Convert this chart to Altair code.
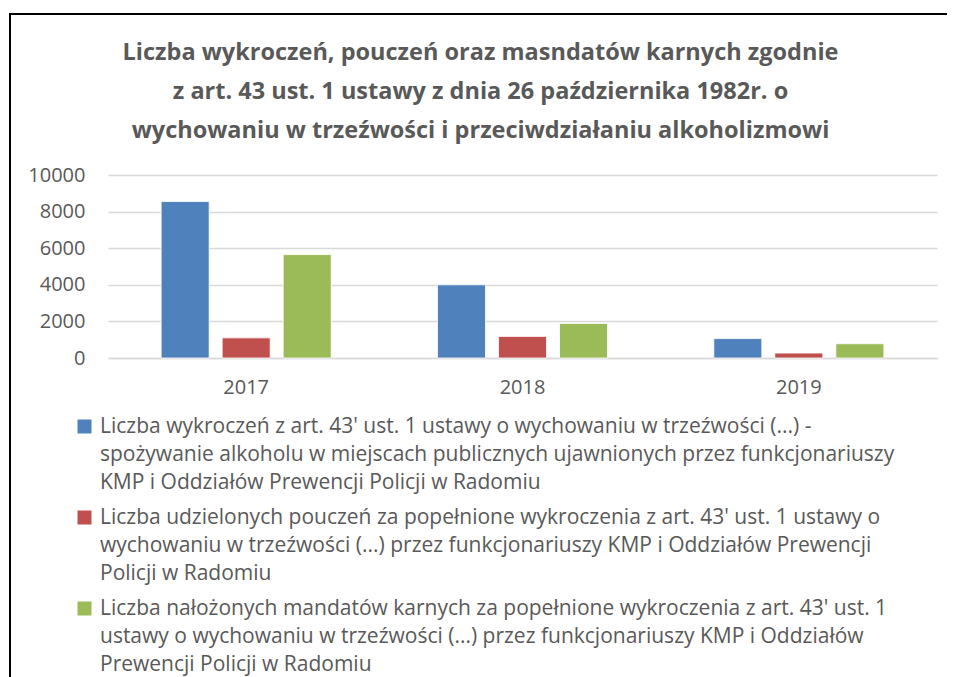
import altair as alt
import pandas as pd

YEARS = ["2017", "2018", "2019"]
SERIES = [
    "Liczba wykroczeń z art. 43' ust. 1 ustawy o wychowaniu w trzeźwości (...) -\nspożywanie alkoholu w miejscach publicznych ujawnionych przez funkcjonariuszy\nKMP i  Oddziałów Prewencji Policji w Radomiu",
    "Liczba udzielonych pouczeń za popełnione wykroczenia z art. 43' ust. 1 ustawy o\nwychowaniu w trzeźwości (...) przez funkcjonariuszy KMP i Oddziałów Prewencji\nPolicji w Radomiu",
    "Liczba nałożonych mandatów karnych za popełnione wykroczenia z art. 43' ust. 1\nustawy o wychowaniu w trzeźwości (...) przez funkcjonariuszy KMP i Oddziałów\nPrewencji Policji w Radomiu",
]
WYKROCZENIA = [8550, 4000, 1060]
POUCZENIA = [1100, 1180, 270]
MANDATY = [5650, 1890, 780]
COLORS = ["#4f81bd", "#c0504d", "#9bbb59"]
TITLE = [
    "Liczba wykroczeń, pouczeń oraz masndatów karnych zgodnie",
    "z art. 43 ust. 1 ustawy  z dnia 26 października 1982r. o",
    "wychowaniu w trzeźwości i przeciwdziałaniu alkoholizmowi",
]

rows = []
for s, vals in zip(SERIES, [WYKROCZENIA, POUCZENIA, MANDATY]):
    for y, v in zip(YEARS, vals):
        rows.append({"rok": y, "seria": s, "wartosc": v})
df = pd.DataFrame(rows)

FONT = "Open Sans"
GRAY = "#595959"

bars = alt.Chart(df).mark_bar(stroke="white", strokeWidth=0.8).encode(
    x=alt.X("rok:N", sort=YEARS, title=None,
            scale=alt.Scale(paddingInner=0.3846, paddingOuter=0.1923),
            axis=alt.Axis(labelAngle=0, labelFontSize=20, labelColor=GRAY, labelFont=FONT,
                          ticks=False, domainColor="#d9d9d9", domainWidth=1.5,
                          labelPadding=19, grid=False)),
    xOffset=alt.XOffset("seria:N", sort=SERIES,
                        scale=alt.Scale(paddingInner=0.213, paddingOuter=0)),
    y=alt.Y("wartosc:Q", title=None,
            scale=alt.Scale(domain=[0, 10000]),
            axis=alt.Axis(values=[0, 2000, 4000, 6000, 8000, 10000], format="d",
                          labelFontSize=20, labelColor=GRAY, labelFont=FONT, ticks=False,
                          domain=False, gridColor="#d9d9d9", gridWidth=1.5,
                          labelPadding=23)),
    color=alt.Color("seria:N", sort=SERIES,
                    scale=alt.Scale(domain=SERIES, range=COLORS),
                    legend=alt.Legend(title=None, orient="none", legendX=-34, legendY=241,
                                      symbolType="square", symbolSize=196,
                                      symbolStrokeWidth=0,
                                      labelFontSize=21, labelFont=FONT, labelColor=GRAY,
                                      labelLimit=900, labelOffset=5, labelBaseline="middle",
                                      rowPadding=13,
                                      labelExpr="split(datum.label, '\\n')")),
)

border = alt.Chart(pd.DataFrame({"a": [0]})).mark_rect(
    fill=None, stroke="black", strokeWidth=2
).encode(x=alt.value(-98), x2=alt.value(842), y=alt.value(-161), y2=alt.value(530))

chart = alt.layer(bars, border).properties(
    width=829, height=183,
    autosize=alt.AutoSizeParams(type="none"),
    padding={"left": 100, "top": 167, "right": 10, "bottom": 330},
    title=alt.TitleParams(TITLE, fontSize=23.5, font=FONT, fontWeight="bold", color=GRAY,
                          lineHeight=39, anchor="middle", dx=-42, offset=-129),
).configure(style={"guide-label": {"lineHeight": 28}}).configure_view(strokeWidth=0)

chart.save("out.html", embed_options={"renderer": "svg", "actions": False})
